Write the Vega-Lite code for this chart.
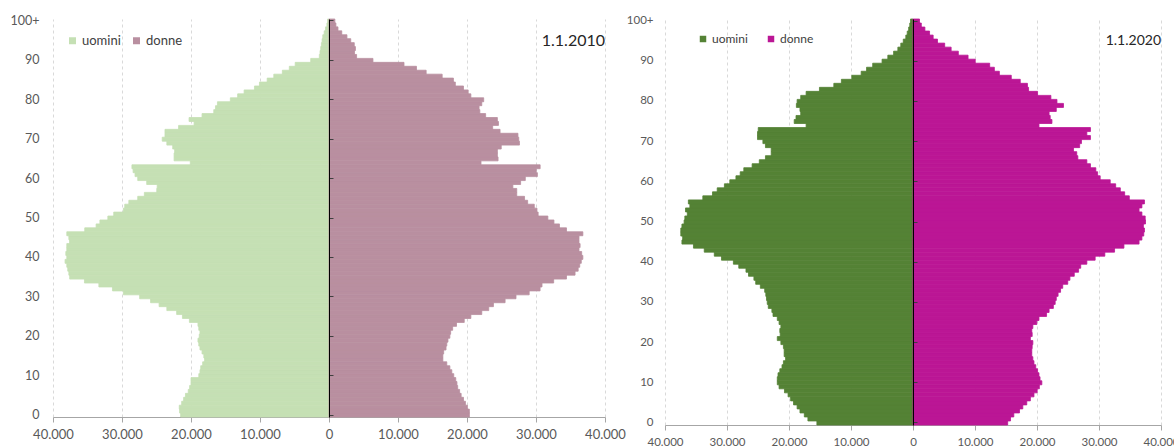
{
  "$schema": "https://vega.github.io/schema/vega-lite/v6.json",
  "padding": {"left": 10, "top": 14, "right": 4, "bottom": 4},
  "spacing": 0,
  "config": {
    "font": "Lato",
    "view": {"stroke": null},
    "axis": {"labelColor": "#595959", "titleColor": "#595959"},
    "legend": {"labelColor": "#404040"}
  },
  "datasets": {
    "d2010": [
      {"eta":0,"uomini":21500,"donne":20340},{"eta":1,"uomini":21650,"donne":20340},{"eta":2,"uomini":21700,"donne":20060},{"eta":3,"uomini":21350,"donne":19770},{"eta":4,"uomini":21070,"donne":19490},{"eta":5,"uomini":20800,"donne":19150},{"eta":6,"uomini":20400,"donne":18930},{"eta":7,"uomini":20200,"donne":18650},{"eta":8,"uomini":20000,"donne":18540},{"eta":9,"uomini":20000,"donne":18370},
      {"eta":10,"uomini":18870,"donne":18080},{"eta":11,"uomini":18700,"donne":17800},{"eta":12,"uomini":18590,"donne":17520},{"eta":13,"uomini":18310,"donne":17070},{"eta":14,"uomini":18030,"donne":16500},{"eta":15,"uomini":18140,"donne":16500},{"eta":16,"uomini":18400,"donne":16620},{"eta":17,"uomini":18700,"donne":16960},{"eta":18,"uomini":18870,"donne":17070},{"eta":19,"uomini":18990,"donne":17240},
      {"eta":20,"uomini":18800,"donne":17520},{"eta":21,"uomini":18700,"donne":17630},{"eta":22,"uomini":18870,"donne":17920},{"eta":23,"uomini":18990,"donne":18480},{"eta":24,"uomini":20230,"donne":19600},{"eta":25,"uomini":21240,"donne":20560},{"eta":26,"uomini":22080,"donne":22140},{"eta":27,"uomini":23500,"donne":23150},{"eta":28,"uomini":24620,"donne":23830},{"eta":29,"uomini":25860,"donne":25520},
      {"eta":30,"uomini":27440,"donne":27100},{"eta":31,"uomini":29800,"donne":29010},{"eta":32,"uomini":31380,"donne":30590},{"eta":33,"uomini":33350,"donne":30870},{"eta":34,"uomini":35440,"donne":32560},{"eta":35,"uomini":37580,"donne":34420},{"eta":36,"uomini":37700,"donne":35660},{"eta":37,"uomini":37860,"donne":36110},{"eta":38,"uomini":38000,"donne":36340},{"eta":39,"uomini":38250,"donne":36560},
      {"eta":40,"uomini":38000,"donne":36790},{"eta":41,"uomini":38140,"donne":36620},{"eta":42,"uomini":38000,"donne":36230},{"eta":43,"uomini":38000,"donne":36390},{"eta":44,"uomini":37600,"donne":36230},{"eta":45,"uomini":37700,"donne":36230},{"eta":46,"uomini":38000,"donne":36790},{"eta":47,"uomini":35400,"donne":34420},{"eta":48,"uomini":33750,"donne":33400},{"eta":49,"uomini":33200,"donne":32600},
      {"eta":50,"uomini":32050,"donne":31720},{"eta":51,"uomini":31200,"donne":30310},{"eta":52,"uomini":29800,"donne":30140},{"eta":53,"uomini":29600,"donne":29750},{"eta":54,"uomini":29010,"donne":28790},{"eta":55,"uomini":27720,"donne":28340},{"eta":56,"uomini":26760,"donne":27210},{"eta":57,"uomini":24960,"donne":27210},{"eta":58,"uomini":24900,"donne":26650},{"eta":59,"uomini":26420,"donne":27770},
      {"eta":60,"uomini":27720,"donne":28450},{"eta":61,"uomini":28110,"donne":30200},{"eta":62,"uomini":28390,"donne":30030},{"eta":63,"uomini":28560,"donne":30600},{"eta":64,"uomini":20100,"donne":22030},{"eta":65,"uomini":22450,"donne":24500},{"eta":66,"uomini":22450,"donne":24400},{"eta":67,"uomini":22370,"donne":24400},{"eta":68,"uomini":22650,"donne":24960},{"eta":69,"uomini":23500,"donne":27600},
      {"eta":70,"uomini":24170,"donne":27500},{"eta":71,"uomini":23770,"donne":27380},{"eta":72,"uomini":23770,"donne":24790},{"eta":73,"uomini":21800,"donne":23720},{"eta":74,"uomini":19550,"donne":24560},{"eta":75,"uomini":20280,"donne":24400},{"eta":76,"uomini":18400,"donne":22700},{"eta":77,"uomini":16700,"donne":21860},{"eta":78,"uomini":16450,"donne":21750},{"eta":79,"uomini":16170,"donne":22140},
      {"eta":80,"uomini":14300,"donne":22420},{"eta":81,"uomini":13240,"donne":20560},{"eta":82,"uomini":12300,"donne":20170},{"eta":83,"uomini":10800,"donne":19490},{"eta":84,"uomini":10080,"donne":18310},{"eta":85,"uomini":8960,"donne":18030},{"eta":86,"uomini":8000,"donne":16400},{"eta":87,"uomini":6760,"donne":14080},{"eta":88,"uomini":5750,"donne":12680},{"eta":89,"uomini":4900,"donne":10870},
      {"eta":90,"uomini":2650,"donne":6370},{"eta":91,"uomini":1400,"donne":4000},{"eta":92,"uomini":1300,"donne":3700},{"eta":93,"uomini":1200,"donne":3830},{"eta":94,"uomini":1100,"donne":3660},{"eta":95,"uomini":1000,"donne":3150},{"eta":96,"uomini":900,"donne":2600},{"eta":97,"uomini":700,"donne":1850},{"eta":98,"uomini":500,"donne":1300},{"eta":99,"uomini":300,"donne":1000},
      {"eta":100,"uomini":200,"donne":850}
    ],
    "d2020": [
      {"eta":0,"uomini":15500,"donne":15270},{"eta":1,"uomini":16950,"donne":15730},{"eta":2,"uomini":17530,"donne":16260},{"eta":3,"uomini":18230,"donne":17180},{"eta":4,"uomini":18690,"donne":17710},{"eta":5,"uomini":19270,"donne":18350},{"eta":6,"uomini":19740,"donne":18930},{"eta":7,"uomini":20150,"donne":19510},{"eta":8,"uomini":20730,"donne":20030},{"eta":9,"uomini":21600,"donne":20380},
      {"eta":10,"uomini":21890,"donne":20780},{"eta":11,"uomini":21890,"donne":20490},{"eta":12,"uomini":21770,"donne":20320},{"eta":13,"uomini":21480,"donne":20090},{"eta":14,"uomini":21130,"donne":19800},{"eta":15,"uomini":20900,"donne":19510},{"eta":16,"uomini":20550,"donne":19330},{"eta":17,"uomini":20780,"donne":19160},{"eta":18,"uomini":20780,"donne":19160},{"eta":19,"uomini":20900,"donne":19220},
      {"eta":20,"uomini":21310,"donne":19330},{"eta":21,"uomini":21890,"donne":18930},{"eta":22,"uomini":21420,"donne":19220},{"eta":23,"uomini":21480,"donne":19160},{"eta":24,"uomini":21310,"donne":19330},{"eta":25,"uomini":21600,"donne":19970},{"eta":26,"uomini":21890,"donne":20320},{"eta":27,"uomini":22580,"donne":21540},{"eta":28,"uomini":22760,"donne":21950},{"eta":29,"uomini":23340,"donne":22640},
      {"eta":30,"uomini":23510,"donne":22930},{"eta":31,"uomini":23630,"donne":23110},{"eta":32,"uomini":23740,"donne":23400},{"eta":33,"uomini":23920,"donne":23800},{"eta":34,"uomini":24620,"donne":24150},{"eta":35,"uomini":25370,"donne":24960},{"eta":36,"uomini":25660,"donne":25310},{"eta":37,"uomini":26530,"donne":26010},{"eta":38,"uomini":26940,"donne":26710},{"eta":39,"uomini":28100,"donne":27050},
      {"eta":40,"uomini":28970,"donne":28040},{"eta":41,"uomini":30890,"donne":29380},{"eta":42,"uomini":32050,"donne":30940},{"eta":43,"uomini":33670,"donne":32510},{"eta":44,"uomini":35410,"donne":34020},{"eta":45,"uomini":37270,"donne":36460},{"eta":46,"uomini":37150,"donne":36920},{"eta":47,"uomini":37450,"donne":37220},{"eta":48,"uomini":37450,"donne":37330},{"eta":49,"uomini":37270,"donne":37160},
      {"eta":50,"uomini":36920,"donne":37500},{"eta":51,"uomini":36800,"donne":37450},{"eta":52,"uomini":36400,"donne":36920},{"eta":53,"uomini":36690,"donne":36460},{"eta":54,"uomini":35990,"donne":36920},{"eta":55,"uomini":36230,"donne":37330},{"eta":56,"uomini":33900,"donne":34890},{"eta":57,"uomini":32340,"donne":34140},{"eta":58,"uomini":31580,"donne":33440},{"eta":59,"uomini":30420,"donne":32690},
      {"eta":60,"uomini":29550,"donne":31810},{"eta":61,"uomini":28560,"donne":30190},{"eta":62,"uomini":27870,"donne":29780},{"eta":63,"uomini":27290,"donne":29490},{"eta":64,"uomini":25950,"donne":28620},{"eta":65,"uomini":24790,"donne":28040},{"eta":66,"uomini":23800,"donne":26590},{"eta":67,"uomini":22870,"donne":26410},{"eta":68,"uomini":22870,"donne":25890},{"eta":69,"uomini":23800,"donne":26880},
      {"eta":70,"uomini":24210,"donne":27170},{"eta":71,"uomini":25080,"donne":28620},{"eta":72,"uomini":25080,"donne":28040},{"eta":73,"uomini":24960,"donne":28620},{"eta":74,"uomini":17240,"donne":20320},{"eta":75,"uomini":19160,"donne":22410},{"eta":76,"uomini":18870,"donne":22130},{"eta":77,"uomini":18110,"donne":21950},{"eta":78,"uomini":18230,"donne":23110},{"eta":79,"uomini":18810,"donne":24270},
      {"eta":80,"uomini":18690,"donne":23220},{"eta":81,"uomini":18110,"donne":22240},{"eta":82,"uomini":17240,"donne":20090},{"eta":83,"uomini":15090,"donne":18640},{"eta":84,"uomini":12770,"donne":18460},{"eta":85,"uomini":11550,"donne":17300},{"eta":86,"uomini":9870,"donne":15850},{"eta":87,"uomini":8360,"donne":13930},{"eta":88,"uomini":7490,"donne":13120},{"eta":89,"uomini":6500,"donne":12370},
      {"eta":90,"uomini":4990,"donne":10040},{"eta":91,"uomini":4060,"donne":8880},{"eta":92,"uomini":3130,"donne":7310},{"eta":93,"uomini":2440,"donne":6150},{"eta":94,"uomini":1970,"donne":5110},{"eta":95,"uomini":1570,"donne":3950},{"eta":96,"uomini":1160,"donne":3250},{"eta":97,"uomini":930,"donne":2670},{"eta":98,"uomini":700,"donne":1920},{"eta":99,"uomini":520,"donne":1340},
      {"eta":100,"uomini":400,"donne":1050}
    ]
  },
  "resolve": {"scale": {"color": "independent", "x": "independent", "y": "independent"}},
  "hconcat": [
    {
      "width": 552,
      "height": 398,
      "resolve": {"axis": {"y": "independent"}},
      "layer": [
        {
          "data": {"name": "d2010"},
          "transform": [{"calculate": "-datum.uomini", "as": "uomini_sx"}],
          "mark": {"type": "bar", "stroke": "#c5e0b4", "strokeWidth": 0.8},
          "encoding": {
            "y": {"field": "eta", "type": "ordinal", "sort": "descending",
              "scale": {"paddingInner": 0, "paddingOuter": 0},
              "axis": {"orient": "left", "title": null, "values": [0,10,20,30,40,50,60,70,80,90,100],
                "labelExpr": "datum.value == 100 ? '100+' : datum.label",
                "domain": false, "ticks": false, "grid": false, "labelPadding": 14,
                "labelFontSize": 12.5, "minExtent": 43, "maxExtent": 43}},
            "x": {"field": "uomini_sx", "type": "quantitative",
              "scale": {"domain": [-40000, 40000], "nice": false},
              "axis": {"title": null, "values": [-40000,-30000,-20000,-10000,0,10000,20000,30000,40000],
                "labelExpr": "replace(format(abs(datum.value), ','), ',', '.')",
                "labelFlush": false, "labelOverlap": false,
                "grid": true, "gridDash": [3, 3], "gridColor": "#d9d9d9",
                "domainColor": "#a6a6a6", "tickColor": "#a6a6a6", "tickSize": 5,
                "labelFontSize": 13, "labelPadding": 6}},
            "color": {"datum": "uomini",
              "scale": {"domain": ["uomini", "donne"], "range": ["#c5e0b4", "#b98fa0"]},
              "legend": {"orient": "none", "legendX": 13, "legendY": 15, "direction": "horizontal",
                "title": null, "symbolType": "square", "symbolSize": 49, "symbolStrokeWidth": 0,
                "labelFontSize": 13, "columnPadding": 9, "labelOffset": 3, "padding": 0}}
          }
        },
        {
          "data": {"name": "d2010"},
          "mark": {"type": "bar", "stroke": "#b98fa0", "strokeWidth": 0.8},
          "encoding": {
            "y": {"field": "eta", "type": "ordinal", "sort": "descending",
              "axis": {"orient": "right", "offset": -276, "title": null, "labels": false,
                "values": [0,10,20,30,40,50,60,70,80,90,100], "grid": false,
                "domainColor": "#000000", "domainWidth": 1, "tickColor": "#404040", "tickSize": 4, "zindex": 1}},
            "x": {"field": "donne", "type": "quantitative"},
            "color": {"datum": "donne"}
          }
        },
        {
          "data": {"values": [{"etichetta": "1.1.2010"}]},
          "mark": {"type": "text", "align": "right", "baseline": "middle", "fontSize": 16, "color": "#262626"},
          "encoding": {
            "x": {"datum": 40000, "type": "quantitative"},
            "y": {"datum": 95, "type": "ordinal", "axis": null},
            "text": {"field": "etichetta"}
          }
        }
      ]
    },
    {
      "width": 496,
      "height": 406,
      "resolve": {"axis": {"y": "independent"}},
      "layer": [
        {
          "data": {"name": "d2020"},
          "transform": [{"calculate": "-datum.uomini", "as": "uomini_sx"}],
          "mark": {"type": "bar", "stroke": "#548235", "strokeWidth": 0.8},
          "encoding": {
            "y": {"field": "eta", "type": "ordinal", "sort": "descending",
              "scale": {"paddingInner": 0, "paddingOuter": 0},
              "axis": {"orient": "left", "title": null, "values": [0,10,20,30,40,50,60,70,80,90,100],
                "labelExpr": "datum.value == 100 ? '100+' : datum.label",
                "domain": false, "ticks": false, "grid": false, "labelPadding": 12,
                "labelFontSize": 11.5, "minExtent": 39, "maxExtent": 39}},
            "x": {"field": "uomini_sx", "type": "quantitative",
              "scale": {"domain": [-40000, 40000], "nice": false},
              "axis": {"title": null, "values": [-40000,-30000,-20000,-10000,0,10000,20000,30000,40000],
                "labelExpr": "replace(format(abs(datum.value), ','), ',', '.')",
                "labelFlush": false, "labelOverlap": false,
                "grid": true, "gridDash": [3, 3], "gridColor": "#d9d9d9",
                "domainColor": "#a6a6a6", "tickColor": "#a6a6a6", "tickSize": 5,
                "labelFontSize": 11.5, "labelPadding": 6}},
            "color": {"datum": "uomini",
              "scale": {"domain": ["uomini", "donne"], "range": ["#548235", "#bb1695"]},
              "legend": {"orient": "none", "legendX": 32, "legendY": 14, "direction": "horizontal",
                "title": null, "symbolType": "square", "symbolSize": 42, "symbolStrokeWidth": 0,
                "labelFontSize": 12, "columnPadding": 17, "labelOffset": 3, "padding": 0}}
          }
        },
        {
          "data": {"name": "d2020"},
          "mark": {"type": "bar", "stroke": "#bb1695", "strokeWidth": 0.8},
          "encoding": {
            "y": {"field": "eta", "type": "ordinal", "sort": "descending",
              "axis": {"orient": "right", "offset": -248, "title": null, "labels": false,
                "values": [0,10,20,30,40,50,60,70,80,90,100], "grid": false,
                "domainColor": "#000000", "domainWidth": 1, "tickColor": "#404040", "tickSize": 4, "zindex": 1}},
            "x": {"field": "donne", "type": "quantitative"},
            "color": {"datum": "donne"}
          }
        },
        {
          "data": {"values": [{"etichetta": "1.1.2020"}]},
          "mark": {"type": "text", "align": "right", "baseline": "middle", "fontSize": 14, "color": "#262626"},
          "encoding": {
            "x": {"datum": 40000, "type": "quantitative"},
            "y": {"datum": 95, "type": "ordinal", "axis": null},
            "text": {"field": "etichetta"}
          }
        }
      ]
    }
  ]
}
